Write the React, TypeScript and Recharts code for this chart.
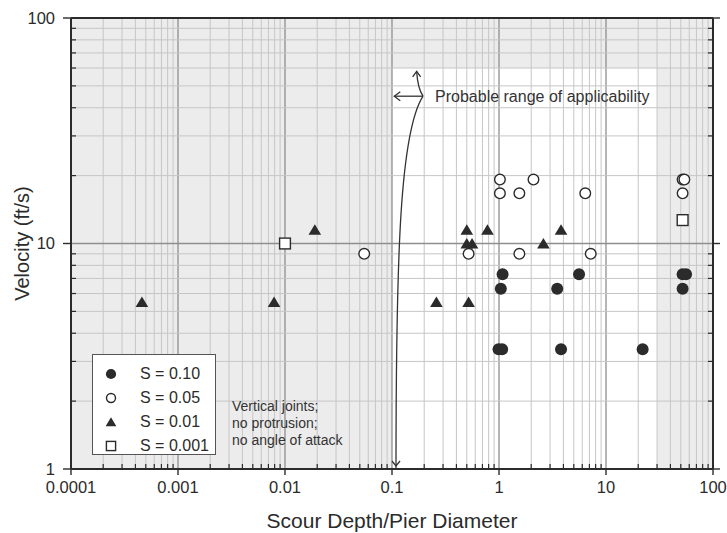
import {
  ScatterChart,
  Scatter,
  XAxis,
  YAxis,
  ReferenceArea,
  ReferenceLine,
  Legend,
} from "recharts";

const FONT = '"Liberation Sans", Arial, Helvetica, sans-serif';
const INK = "#2b2b2b";

// decade ticks on both log axes
const X_TICKS = [0.0001, 0.001, 0.01, 0.1, 1, 10, 100];
const X_TICK_LABELS = ["0.0001", "0.001", "0.01", "0.1", "1", "10", "100"];
const Y_TICKS = [1, 10, 100];
const Y_TICK_LABELS = ["1", "10", "100"];

// scour depth / pier diameter vs velocity, grouped by S
const S_010 = [
  { x: 0.99, y: 3.4 },
  { x: 1.07, y: 3.4 },
  { x: 1.08, y: 7.3 },
  { x: 1.04, y: 6.3 },
  { x: 3.5, y: 6.3 },
  { x: 5.6, y: 7.3 },
  { x: 3.8, y: 3.4 },
  { x: 22, y: 3.4 },
  { x: 52, y: 7.3 },
  { x: 56, y: 7.3 },
  { x: 52, y: 6.3 },
];
const S_005 = [
  { x: 1.02, y: 19.2 },
  { x: 2.1, y: 19.2 },
  { x: 1.02, y: 16.7 },
  { x: 1.55, y: 16.7 },
  { x: 0.52, y: 9 },
  { x: 1.55, y: 9 },
  { x: 6.4, y: 16.7 },
  { x: 7.2, y: 9 },
  { x: 52, y: 19.2 },
  { x: 54, y: 19.2 },
  { x: 52, y: 16.7 },
  { x: 0.055, y: 9 },
];
const S_001 = [
  { x: 0.5, y: 11.5 },
  { x: 0.78, y: 11.5 },
  { x: 3.8, y: 11.5 },
  { x: 0.5, y: 10 },
  { x: 0.56, y: 10 },
  { x: 2.6, y: 10 },
  { x: 0.26, y: 5.5 },
  { x: 0.52, y: 5.5 },
  { x: 0.019, y: 11.5 },
  { x: 0.00046, y: 5.5 },
  { x: 0.0079, y: 5.5 },
];
const S_0001 = [
  { x: 0.01, y: 10 },
  { x: 52, y: 12.7 },
];

const SERIES = [
  { name: "S = 0.10", data: S_010, kind: "dot" },
  { name: "S = 0.05", data: S_005, kind: "ring" },
  { name: "S = 0.01", data: S_001, kind: "tri" },
  { name: "S = 0.001", data: S_0001, kind: "box" },
];

// applicability window (white) inside the shaded plot
const RANGE_X = [0.1, 30];
const RANGE_Y = [1, 60];

const NOTE_LINES = ["Vertical joints;", "no protrusion;", "no angle of attack"];

const withMinors = (majors: number[]) => {
  const out: number[] = [];
  majors.forEach((m, i) => {
    out.push(m);
    if (i < majors.length - 1) {
      for (let k = 2; k <= 9; k++) out.push(+(m * k).toPrecision(3));
    }
  });
  return out;
};

const X_ALL = withMinors(X_TICKS);
const Y_ALL = withMinors(Y_TICKS);

function marker(kind: string, cx: number, cy: number, s = 1) {
  if (kind === "dot") return <circle cx={cx} cy={cy} r={6 * s} fill={INK} />;
  if (kind === "ring")
    return <circle cx={cx} cy={cy} r={5.3 * s} fill="#fff" stroke={INK} strokeWidth={1.4} />;
  if (kind === "tri")
    return (
      <polygon
        points={`${cx},${cy - 5.5 * s} ${cx - 6.3 * s},${cy + 5 * s} ${cx + 6.3 * s},${cy + 5 * s}`}
        fill={INK}
      />
    );
  return (
    <rect
      x={cx - 5.4 * s}
      y={cy - 5.4 * s}
      width={10.8 * s}
      height={10.8 * s}
      fill="#fff"
      stroke={INK}
      strokeWidth={1.4}
    />
  );
}

const tickText = { fontSize: 16.5, fill: INK, fontFamily: FONT };

const BottomTick = ({ x, y, payload }: any) => {
  const i = X_TICKS.indexOf(payload.value);
  if (i < 0) return <line x1={x} x2={x} y1={y} y2={y - 5} stroke={INK} strokeWidth={1.2} />;
  return (
    <g>
      <line x1={x} x2={x} y1={y} y2={y + 6} stroke={INK} strokeWidth={1.4} />
      <text x={x} y={y + 24} textAnchor="middle" {...tickText}>
        {X_TICK_LABELS[i]}
      </text>
    </g>
  );
};

const TopTick = ({ x, y, payload }: any) =>
  X_TICKS.includes(payload.value) ? (
    <line x1={x} x2={x} y1={y} y2={y - 6} stroke={INK} strokeWidth={1.4} />
  ) : (
    <line x1={x} x2={x} y1={y} y2={y + 5} stroke={INK} strokeWidth={1.2} />
  );

const LeftTick = ({ x, y, payload }: any) => {
  const i = Y_TICKS.indexOf(payload.value);
  if (i < 0) return <line x1={x} x2={x + 5} y1={y} y2={y} stroke={INK} strokeWidth={1.2} />;
  return (
    <g>
      <line x1={x} x2={x - 8} y1={y} y2={y} stroke={INK} strokeWidth={1.4} />
      <text x={x - 16} y={y} dy="0.34em" textAnchor="end" {...tickText}>
        {Y_TICK_LABELS[i]}
      </text>
    </g>
  );
};

const RightTick = ({ x, y, payload }: any) =>
  Y_TICKS.includes(payload.value) ? (
    <line x1={x} x2={x + 7} y1={y} y2={y} stroke={INK} strokeWidth={1.4} />
  ) : (
    <line x1={x} x2={x - 5} y1={y} y2={y} stroke={INK} strokeWidth={1.2} />
  );

// curved leader from the x axis up to the label, with a down arrow at the foot
const CurveShape = ({ x1, y1, x2, y2 }: any) => {
  const dy = y1 - y2;
  const dx = x2 - x1;
  return (
    <g fill="none" stroke="#333" strokeWidth={1.3}>
      <path
        d={`M${x1},${y1} C${x1},${y1 - 0.585 * dy} ${x1 + 0.16 * dx},${y2 + 0.094 * dy} ${x2},${y2}`}
      />
      <path d={`M${x1 - 4},${y1 - 8} L${x1},${y1 - 3} L${x1 + 4},${y1 - 8}`} />
    </g>
  );
};

const LeftArrowShape = ({ x1, y1, x2, y2 }: any) => (
  <g>
    <g fill="none" stroke="#333" strokeWidth={1.3}>
      <path d={`M${x1},${y1} L${x2},${y2}`} />
      <path d={`M${x2 + 6},${y2 - 4.5} L${x2},${y2} L${x2 + 6},${y2 + 4.5}`} />
    </g>
    <text x={x1 + 12} y={y1} dy="0.36em" fontSize={16} fill="#333" fontFamily={FONT}>
      Probable range of applicability
    </text>
  </g>
);

const UpArrowShape = ({ x1, y1, x2, y2 }: any) => (
  <g fill="none" stroke="#333" strokeWidth={1.3}>
    <path d={`M${x1},${y1} Q${x2 + 1},${y1 - 8} ${x2},${y2}`} />
    <path d={`M${x2 - 4},${y2 + 5.5} L${x2},${y2} L${x2 + 4},${y2 + 5.5}`} />
  </g>
);

const seriesIndex = (name: string) => SERIES.findIndex((d) => d.name === name);

const renderLegend = ({ payload }: any) => {
  const items = [...(payload || [])].sort(
    (a: any, b: any) => seriesIndex(a.value) - seriesIndex(b.value)
  );
  return (
    <div style={{ position: "relative", fontFamily: FONT, color: INK }}>
      <div
        style={{
          width: 124,
          height: 101,
          border: "1px solid #555",
          background: "#fff",
          paddingTop: 7,
          boxSizing: "border-box",
        }}
      >
        {items.map((entry: any) => {
          const s = SERIES[seriesIndex(entry.value)];
          return (
            <div
              key={entry.value}
              style={{ position: "relative", height: 24, fontSize: 16, lineHeight: "24px" }}
            >
              <svg width={20} height={24} style={{ position: "absolute", left: 8, top: 0 }}>
                {marker(s ? s.kind : "dot", 10, 12, 0.85)}
              </svg>
              <span style={{ position: "absolute", left: 47, whiteSpace: "nowrap" }}>
                {entry.value}
              </span>
            </div>
          );
        })}
      </div>
      <div
        style={{
          position: "absolute",
          left: 140,
          top: 44,
          fontSize: 14,
          lineHeight: "17px",
          whiteSpace: "nowrap",
          color: "#333",
        }}
      >
        {NOTE_LINES.map((l) => (
          <div key={l}>{l}</div>
        ))}
      </div>
    </div>
  );
};

export default function App() {
  return (
    <div style={{ position: "absolute", left: 0, top: 0 }}>
      <ScatterChart width={727} height={533} margin={{ top: 0, right: 0, bottom: 0, left: 0 }}>
        <XAxis
          dataKey="x"
          type="number"
          scale="log"
          domain={[0.0001, 100]}
          allowDataOverflow
          ticks={X_ALL}
          interval={0}
          tick={<BottomTick />}
          tickLine={false}
          tickSize={0}
          tickMargin={0}
          height={64}
          axisLine={{ stroke: INK, strokeWidth: 2 }}
          label={{
            value: "Scour Depth/Pier Diameter",
            position: "insideBottom",
            offset: 5,
            style: { fontSize: 21, fill: INK, fontFamily: FONT },
          }}
        />
        <XAxis
          xAxisId="top"
          orientation="top"
          type="number"
          scale="log"
          domain={[0.0001, 100]}
          allowDataOverflow
          ticks={X_ALL}
          interval={0}
          tick={<TopTick />}
          tickLine={false}
          tickSize={0}
          tickMargin={0}
          height={18}
          axisLine={{ stroke: INK, strokeWidth: 2 }}
        />
        <YAxis
          dataKey="y"
          type="number"
          scale="log"
          domain={[1, 100]}
          allowDataOverflow
          ticks={Y_ALL}
          interval={0}
          tick={<LeftTick />}
          tickLine={false}
          tickSize={0}
          tickMargin={0}
          width={71}
          axisLine={{ stroke: INK, strokeWidth: 2 }}
          label={{
            value: "Velocity (ft/s)",
            angle: -90,
            position: "insideLeft",
            offset: 22,
            style: { fontSize: 20, fill: INK, fontFamily: FONT, textAnchor: "middle" },
          }}
        />
        <YAxis
          yAxisId="right"
          orientation="right"
          type="number"
          scale="log"
          domain={[1, 100]}
          allowDataOverflow
          ticks={Y_ALL}
          interval={0}
          tick={<RightTick />}
          tickLine={false}
          tickSize={0}
          tickMargin={0}
          width={14}
          axisLine={{ stroke: INK, strokeWidth: 2 }}
        />

        <ReferenceArea x1={0.0001} x2={100} y1={1} y2={100} fill="#ececec" fillOpacity={1} />
        <ReferenceArea
          x1={RANGE_X[0]}
          x2={RANGE_X[1]}
          y1={RANGE_Y[0]}
          y2={RANGE_Y[1]}
          fill="#ffffff"
          fillOpacity={1}
        />

        {X_ALL.map((v) => (
          <ReferenceLine
            key={`vx${v}`}
            x={v}
            stroke={X_TICKS.includes(v) ? "#8e8e8e" : "#c6c6c6"}
            strokeWidth={X_TICKS.includes(v) ? 1.3 : 1}
          />
        ))}
        {Y_ALL.map((v) => (
          <ReferenceLine
            key={`hy${v}`}
            y={v}
            stroke={Y_TICKS.includes(v) ? "#8e8e8e" : "#c6c6c6"}
            strokeWidth={Y_TICKS.includes(v) ? 1.3 : 1}
          />
        ))}

        <ReferenceLine
          segment={[
            { x: 0.109, y: 1 },
            { x: 0.195, y: 45 },
          ]}
          shape={<CurveShape />}
        />
        <ReferenceLine
          segment={[
            { x: 0.195, y: 45 },
            { x: 0.105, y: 45 },
          ]}
          shape={<LeftArrowShape />}
        />
        <ReferenceLine
          segment={[
            { x: 0.195, y: 45 },
            { x: 0.17, y: 58 },
          ]}
          shape={<UpArrowShape />}
        />

        {SERIES.map((s) => (
          <Scatter
            key={s.name}
            name={s.name}
            data={s.data}
            fill={INK}
            isAnimationActive={false}
            shape={(p: any) => marker(s.kind, p.cx, p.cy)}
          />
        ))}

        <Legend
          layout="horizontal"
          verticalAlign="middle"
          align="center"
          wrapperStyle={{ left: 92, top: 354, width: 300, height: 110 }}
          content={renderLegend}
        />
      </ScatterChart>
    </div>
  );
}
